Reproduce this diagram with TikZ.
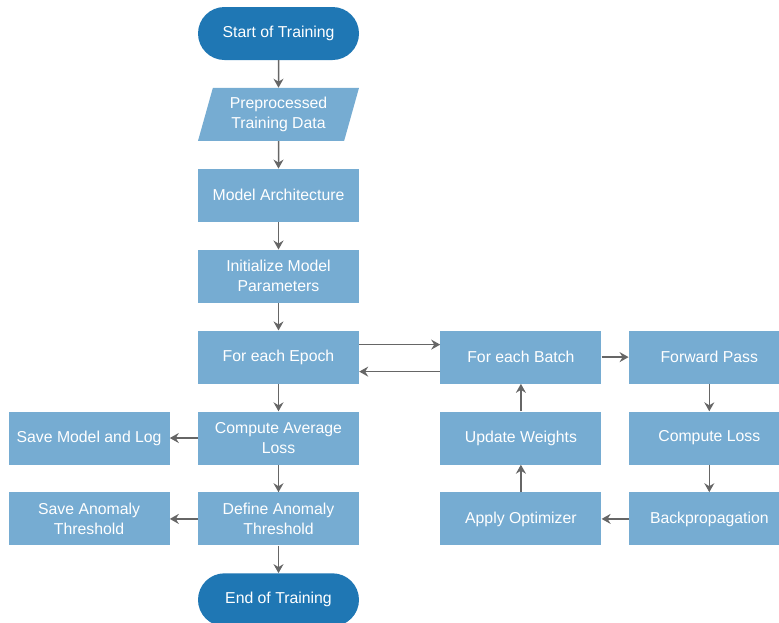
\documentclass[tikz,border=0pt]{standalone}
\usepackage{fontspec}
\setmainfont{Liberation Sans}
\usepackage{xcolor}
\usetikzlibrary{positioning,arrows.meta,shapes.geometric}
\definecolor{termblue}{HTML}{1F77B4}
\definecolor{stepblue}{HTML}{76ACD2}
\definecolor{arrgray}{HTML}{666666}

\begin{document}
\begin{tikzpicture}[
   x=1pt, y=1pt,
   node distance = 27.5pt and 28pt,
   box/.style = {fill=stepblue, text=white, minimum height=53pt,
                 minimum width=161pt, inner sep=2pt, align=center,
                 font=\fontsize{15.8}{20}\selectfont},
   term/.style = {box, fill=termblue, rounded corners=26.5pt},
   data/.style = {box, trapezium, trapezium left angle=69,
                  trapezium right angle=111, trapezium stretches body},
   arr/.style = {-{Stealth[length=9pt,width=10pt,inset=3pt]}, arrgray, line width=1.5pt}
]
\useasboundingbox (0,0) rectangle (779,-622);
\node[term] (start) at (278.5,-33.5) {Start of Training};
\node[data, below=of start]  (prep)  {Preprocessed\\Training Data};
\node[box, below=of prep]    (arch)  {Model Architecture};
\node[box, below=of arch]    (init)  {Initialize Model\\Parameters};
\node[box, below=of init]    (epoch) {For each Epoch};
\node[box, below=of epoch]   (avg)   {Compute Average\\Loss};
\node[box, below=of avg]     (thr)   {Define Anomaly\\Threshold};
\node[term, below=of thr]    (stop)  {End of Training};
\node[box, left=of avg]      (save)  {Save Model and Log};
\node[box, left=of thr]      (savethr) {Save Anomaly\\Threshold};
\node[box, right=81pt of epoch] (batch) {For each Batch};
\node[box, below=of batch]   (upd)   {Update Weights};
\node[box, below=of upd]     (opt)   {Apply Optimizer};
\node[box, right=27pt of batch] (fwd) {Forward Pass};
\node[box, below=of fwd]     (loss)  {Compute Loss};
\node[box, below=of loss]    (back)  {Backpropagation};

\draw[arr] (start) -- (prep);
\draw[arr] (prep)  -- (arch);
\draw[arr] (arch)  -- (init);
\draw[arr] (init)  -- (epoch);
\draw[arr] (epoch) -- (avg);
\draw[arr] (avg)   -- (thr);
\draw[arr] (thr)   -- (stop);
\draw[arr] (avg)   -- (save);
\draw[arr] (thr)   -- (savethr);
\draw[arr] ([yshift=12.5pt]epoch.east) -- ([yshift=12.5pt]batch.west);
\draw[arr] ([yshift=-14.5pt]batch.west) -- ([yshift=-14.5pt]epoch.east);
\draw[arr] (batch) -- (fwd);
\draw[arr] (fwd)   -- (loss);
\draw[arr] (loss)  -- (back);
\draw[arr] (back)  -- (opt);
\draw[arr] (opt)   -- (upd);
\draw[arr] (upd)   -- (batch);
\end{tikzpicture}
\end{document}
